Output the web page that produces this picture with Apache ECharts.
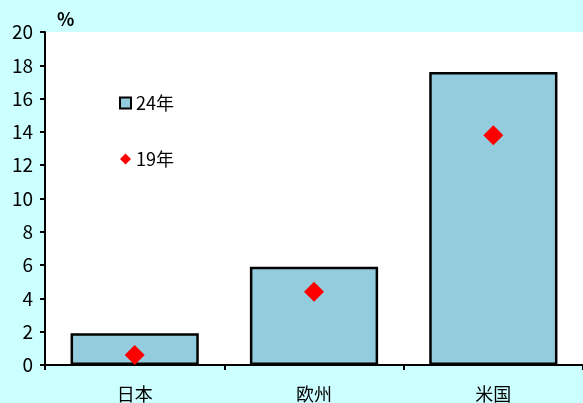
<!DOCTYPE html>
<html><head><meta charset="utf-8">
<script src="https://cdn.jsdelivr.net/npm/echarts@6/dist/echarts.min.js"></script>
<style>html,body{margin:0;padding:0;background:#CCFFFF;}#c{width:583px;height:403px;}</style>
</head><body><div id="c"></div>
<script>
const categories = ['日本', '欧州', '米国'];
const values24 = [1.9, 5.9, 17.6];
const values19 = [0.6, 4.4, 13.8];
const yTicks = [0, 2, 4, 6, 8, 10, 12, 14, 16, 18, 20];

const FONT = '"Liberation Sans Narrow", "Noto Sans CJK JP", sans-serif';
const chart = echarts.init(document.getElementById('c'));
chart.setOption({
  backgroundColor: '#CCFFFF',
  animation: false,
  grid: { left: 45, right: 0, top: 32, bottom: 38, backgroundColor: '#fff', show: true, borderWidth: 0 },
  legend: {
    orient: 'vertical', left: 114, top: 89, itemGap: 38,
    itemWidth: 11, itemHeight: 11,
    textStyle: { fontFamily: FONT, fontSize: 18, color: '#000' },
    data: [
      { name: '24年', icon: 'rect' },
      { name: '19年', icon: 'diamond' }
    ]
  },
  xAxis: {
    type: 'category', data: categories,
    axisLine: { lineStyle: { color: '#000', width: 2 } },
    axisTick: { show: true, length: 5, lineStyle: { color: '#000', width: 2 } },
    axisLabel: { fontFamily: FONT, fontSize: 18, color: '#000', margin: 20 }
  },
  yAxis: {
    type: 'value', min: 0, max: 20, interval: 2,
    name: '%', nameLocation: 'end', nameGap: 4,
    nameTextStyle: { fontFamily: FONT, fontSize: 18, fontWeight: 'bold', color: '#000', align: 'left', padding: [0, 0, 0, 12] },
    axisLine: { show: true, lineStyle: { color: '#000', width: 2 } },
    axisTick: { show: true, length: 5, lineStyle: { color: '#000', width: 2 } },
    splitLine: { show: false },
    axisLabel: { fontFamily: FONT, fontSize: 19, color: '#000', margin: 12,
      formatter: v => yTicks.includes(v) ? String(v) : '' }
  },
  series: [
    {
      name: '24年', type: 'bar', data: values24, barWidth: '71.5%',
      itemStyle: { color: '#93CDDD', borderColor: '#000', borderWidth: 2.5 }
    },
    {
      name: '19年', type: 'scatter', data: values19, symbol: 'diamond', symbolSize: 20,
      itemStyle: { color: '#FF0000', opacity: 1 }, z: 5
    }
  ]
});
</script></body></html>
